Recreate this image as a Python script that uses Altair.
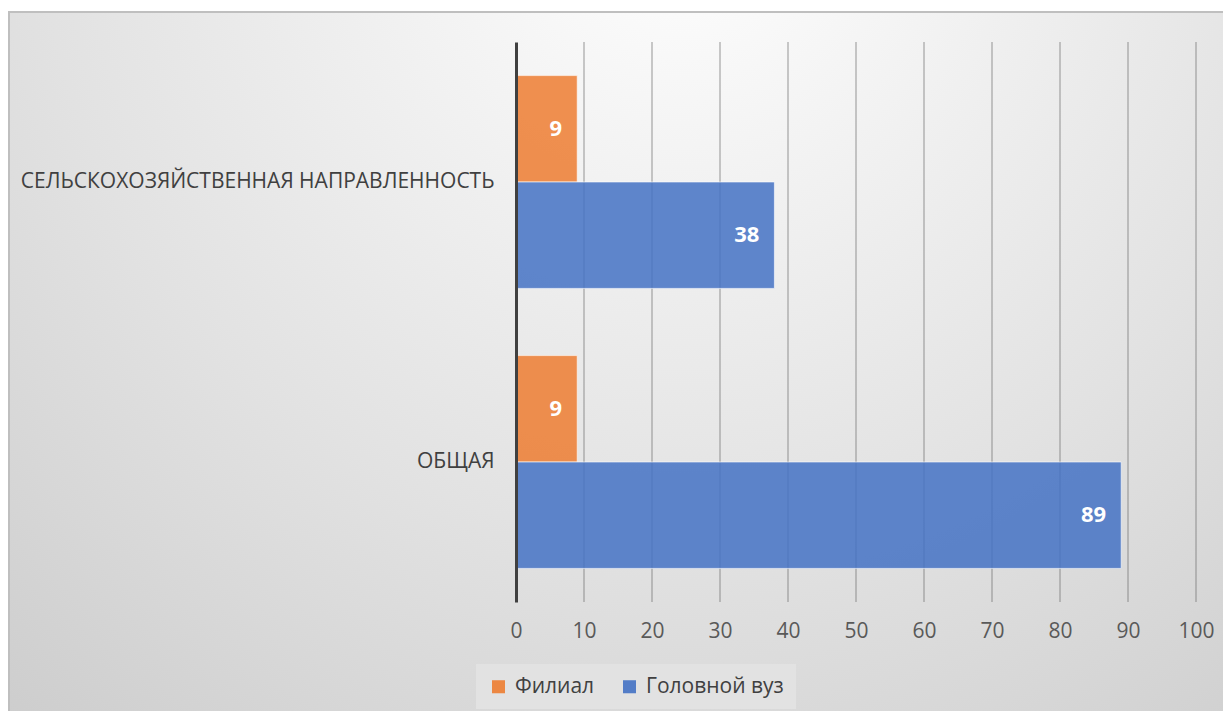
import altair as alt
import pandas as pd

categories = ["СЕЛЬСКОХОЗЯЙСТВЕННАЯ НАПРАВЛЕННОСТЬ", "СЕЛЬСКОХОЗЯЙСТВЕННАЯ НАПРАВЛЕННОСТЬ", "ОБЩАЯ", "ОБЩАЯ"]
series = ["Филиал", "Головной вуз", "Филиал", "Головной вуз"]
values = [9, 38, 9, 89]

cat_order = ["СЕЛЬСКОХОЗЯЙСТВЕННАЯ НАПРАВЛЕННОСТЬ", "ОБЩАЯ"]
series_order = ["Филиал", "Головной вуз"]
series_colors = ["#ED7D31", "#4472C4"]
x_ticks = [0, 10, 20, 30, 40, 50, 60, 70, 80, 90, 100]
grid_ticks = [10, 20, 30, 40, 50, 60, 70, 80, 90, 100]

df = pd.DataFrame({"cat": categories, "series": series, "value": values})

FONT = "Open Sans"
FS = 21

x_scale = alt.Scale(domain=[0, 100], nice=False)
x_axis = alt.Axis(values=x_ticks, domain=False, ticks=False, grid=False,
                  labelFontSize=FS, labelColor="#595959", labelFont=FONT,
                  labelPadding=18, labelFlush=False, labelOverlap=False, zindex=1)

bg = alt.Chart(pd.DataFrame({"d": [0]})).mark_rect(
    fill=alt.Gradient(
        gradient="radial",
        x1=0.55, y1=0.12, r1=0.0,
        x2=0.55, y2=0.12, r2=0.95,
        stops=[
            alt.GradientStop(color="#ffffff", offset=0),
            alt.GradientStop(color="#e2e2e2", offset=0.55),
            alt.GradientStop(color="#c8c8c8", offset=1),
        ],
    ),
    stroke="#bfbfbf",
    strokeWidth=2,
).encode(
    x=alt.value(-507), x2=alt.value(716),
    y=alt.value(-30), y2=alt.value(680),
)

grid = alt.Chart(pd.DataFrame({"value": grid_ticks})).mark_rule(
    color="#6e6e6e", opacity=0.45, strokeWidth=1.6
).encode(
    x=alt.X("value:Q", title=None, scale=x_scale, axis=x_axis),
    y=alt.value(0), y2=alt.value(560),
)

base = alt.Chart(df).encode(
    y=alt.Y("cat:N", sort=cat_order, title=None,
            scale=alt.Scale(paddingInner=0.24, paddingOuter=0.12),
            axis=alt.Axis(domain=True, domainColor="#404040", domainWidth=3,
                          ticks=False, grid=False, labelFontSize=FS,
                          labelColor="#404040", labelFont=FONT, labelPadding=22,
                          labelLimit=600, zindex=1)),
    yOffset=alt.YOffset("series:N", sort=series_order,
                        scale=alt.Scale(domain=series_order, paddingInner=0, paddingOuter=0)),
    x=alt.X("value:Q", title=None, scale=x_scale, axis=x_axis),
)

bars = base.mark_bar(fillOpacity=0.85, stroke="#ffffff", strokeOpacity=0.6, strokeWidth=1).encode(
    color=alt.Color("series:N", sort=series_order,
                    scale=alt.Scale(domain=series_order, range=series_colors),
                    legend=alt.Legend(title=None, orient="none", legendX=-40, legendY=622,
                                      direction="horizontal", fillColor="#e2e2e2",
                                      padding=12, symbolType="square", symbolSize=170,
                                      symbolOpacity=0.9, symbolStrokeWidth=0,
                                      labelFontSize=FS, labelColor="#404040",
                                      labelFont=FONT, columnPadding=24, labelOffset=6,
                                      zindex=1))
)

labels = base.mark_text(align="right", dx=-15, color="white", fontWeight="bold",
                        fontSize=22, font=FONT).encode(text="value:Q")

chart = alt.layer(bg, grid, bars, labels).properties(
    width=680, height=560,
    padding={"left": 508, "top": 34, "right": 27, "bottom": 109},
    autosize=alt.AutoSizeParams(type="none"),
    background="white",
).configure_view(stroke=None)

chart.save("out.html", embed_options={"renderer": "svg", "actions": False})
